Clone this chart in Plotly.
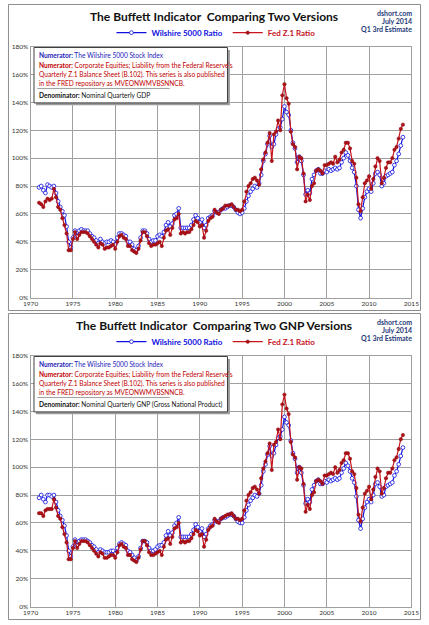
import plotly.graph_objects as go

# quarterly ratios, 1971 Q1 .. 2014 Q1, in percent of GDP / GNP
wilshire_gdp = [
    79, 80, 77, 75,  81, 80, 79, 80,  75, 69, 65, 62,  59, 51, 40, 36,
    43, 48, 44, 48,  49, 48, 48, 48,  46, 44, 43, 41,  39, 42, 40, 39,
    40, 40, 41, 40,  38, 43, 46, 46,  45, 44, 40, 40,  38, 35, 34, 37,
    43, 48, 48, 46,  42, 40, 41, 41,  44, 45, 44, 47,  52, 54, 51, 53,
    59, 60, 64, 50,  50, 50, 50, 50,  52, 56, 59, 57,  54, 56, 50, 52,
    57, 58, 59, 62,  61, 61, 63, 64,  64, 65, 66, 66,  65, 63, 61, 60,
    61, 64, 69, 73,  76, 78, 80, 79,  82, 88, 98, 103, 110, 116, 108, 110,
    117, 121, 122, 128, 137, 133, 131, 120, 111, 107, 97, 101, 98, 88, 74, 77,
    75, 85, 88, 91,  92, 89, 89, 91,  90, 92, 91, 92,  93, 92, 93, 97,
    100, 104, 102, 98, 93, 90, 80, 63, 57, 64, 72, 76,  78, 76, 82, 89,
    90, 88, 80, 82,  87, 88, 89, 90,  95, 98, 103, 109, 115,
]
fed_z1_gdp = [
    68, 67, 65, 69,  71, 70, 71, 78,  72, 65, 63, 57,  52, 46, 34, 34,
    42, 47, 42, 45,  47, 47, 47, 46,  44, 42, 40, 38,  36, 39, 38, 35,
    36, 36, 37, 38,  35, 40, 44, 45,  43, 42, 37, 37,  34, 33, 32, 35,
    41, 47, 47, 44,  39, 37, 38, 38,  39, 40, 37, 43,  48, 49, 45, 50,
    56, 57, 60, 46,  47, 46, 47, 47,  49, 52, 55, 54,  51, 52, 43, 48,
    55, 57, 58, 63,  61, 60, 63, 64,  66, 66, 66, 67,  65, 63, 63, 62,
    63, 69, 76, 80,  82, 85, 86, 84,  81, 92, 99, 104, 111, 118, 98, 117,
    119, 127, 120, 145, 153, 143, 139, 119, 110, 108, 92, 101, 100, 89, 69, 74,
    70, 80, 82, 91,  92, 91, 89, 95,  95, 96, 97, 96,  101, 97, 99, 104,
    106, 111, 111, 107, 98, 96, 86, 67, 62, 72, 82, 84,  87, 78, 85, 94,
    100, 98, 82, 86,  93, 97, 97, 100, 106, 108, 114, 121, 124,
]
wilshire_gnp = [
    78, 80, 77, 75,  80, 80, 79, 80,  75, 69, 65, 62,  58, 51, 40, 36,
    43, 48, 44, 47,  48, 48, 48, 47,  46, 44, 43, 41,  39, 41, 40, 39,
    39, 39, 40, 40,  38, 42, 45, 46,  45, 44, 40, 39,  37, 35, 33, 36,
    42, 47, 47, 46,  42, 40, 40, 41,  43, 44, 44, 46,  51, 54, 51, 53,
    58, 60, 64, 50,  50, 50, 50, 50,  52, 55, 59, 57,  54, 56, 50, 52,
    56, 58, 59, 62,  61, 61, 63, 64,  64, 65, 66, 66,  65, 63, 61, 60,
    60, 64, 69, 73,  76, 78, 80, 79,  81, 87, 97, 102, 109, 115, 108, 110,
    116, 121, 122, 127, 136, 132, 130, 119, 110, 106, 96, 100, 96, 87, 74, 77,
    75, 84, 87, 90,  91, 88, 88, 90,  89, 91, 90, 91,  92, 91, 92, 96,
    99, 103, 101, 97, 92, 89, 79, 62, 56, 63, 71, 75,  77, 75, 80, 88,
    89, 86, 79, 80,  86, 87, 88, 89,  94, 97, 102, 108, 114,
]
fed_z1_gnp = [
    67, 67, 65, 69,  70, 70, 70, 77,  71, 65, 63, 57,  52, 46, 34, 34,
    42, 47, 42, 45,  47, 47, 47, 46,  44, 42, 40, 38,  36, 39, 38, 35,
    35, 36, 37, 37,  35, 39, 44, 45,  43, 42, 37, 37,  34, 33, 32, 35,
    41, 47, 47, 44,  39, 37, 37, 38,  39, 40, 37, 43,  48, 49, 45, 50,
    56, 57, 60, 46,  47, 46, 47, 47,  49, 52, 55, 54,  51, 52, 43, 48,
    55, 57, 58, 63,  61, 60, 63, 64,  65, 66, 66, 67,  65, 63, 63, 62,
    63, 69, 76, 80,  82, 85, 86, 84,  81, 92, 99, 104, 110, 117, 98, 116,
    118, 127, 120, 145, 152, 142, 138, 118, 109, 107, 91, 100, 99, 88, 68, 73,
    70, 80, 82, 90,  91, 90, 88, 94,  94, 95, 96, 95,  100, 96, 98, 103,
    105, 110, 110, 106, 97, 95, 85, 66, 61, 71, 81, 83,  86, 77, 84, 93,
    99, 97, 81, 85,  92, 96, 96, 99,  105, 107, 113, 120, 123,
]
year_ticks = [1970, 1975, 1980, 1985, 1990, 1995, 2000, 2005, 2010, 2015]
pct_ticks = [0, 20, 40, 60, 80, 100, 120, 140, 160, 180]
pct_labels = ["%d%%" % p for p in pct_ticks]
titles = ["The Buffett Indicator  Comparing Two Versions",
          "The Buffett Indicator  Comparing Two GNP Versions"]
denominators = ["Nominal Quarterly GDP",
                "Nominal Quarterly GNP (Gross National Product)"]
source_lines = ["dshort.com", "July 2014", "Q1 3rd Estimate"]

quarters = [1971 + i / 4 for i in range(len(wilshire_gdp))]

W, H = 429, 625
FONT = "Lato"
BLUE = "#1010e0"
RED = "#c8141c"
NAVY = "#1f3a78"


def fy(px):
    return 1 - px / H


def fx(px):
    return px / W


fig = go.Figure()
shapes, annotations = [], []

panels = [
    (0, "", "legend", wilshire_gdp, fed_z1_gdp),
    (312.5, "2", "legend2", wilshire_gnp, fed_z1_gnp),
]

for i, (off, n, leg, wil, fed) in enumerate(panels):
    xa, ya = "x" + n, "y" + n

    fig.add_trace(go.Scatter(
        x=quarters, y=wil, xaxis=xa, yaxis=ya, legend=leg,
        mode="lines+markers", name="<span style='color:%s'><b>Wilshire 5000 Ratio</b></span>" % BLUE,
        line=dict(color=BLUE, width=1.2),
        marker=dict(symbol="circle", size=3.8, color="white", line=dict(color=BLUE, width=0.8)),
    ))
    fig.add_trace(go.Scatter(
        x=quarters, y=fed, xaxis=xa, yaxis=ya, legend=leg,
        mode="lines+markers", name="<span style='color:%s'><b>Fed Z.1 Ratio</b></span>" % RED,
        line=dict(color=RED, width=1.2),
        marker=dict(symbol="circle", size=3.4, color="#b01018", line=dict(color="#8a0a10", width=0.5)),
    ))

    axis_style = dict(showgrid=True, gridcolor="#a0a0a0", gridwidth=1, zeroline=False,
                      showline=True, linecolor="#a0a0a0", mirror=True, ticks="",
                      tickfont=dict(family=FONT, size=6.5, color="#333333"))
    fig.update_layout(**{
        "xaxis" + n: dict(axis_style, domain=[fx(23.5), fx(419)], range=[1970, 2015],
                          tickvals=year_ticks, anchor=ya),
        "yaxis" + n: dict(axis_style, domain=[fy(off + 297), fy(off + 43)], range=[0, 180],
                          tickvals=pct_ticks, ticktext=pct_labels, anchor=xa),
        leg: dict(orientation="h", x=fx(216), xanchor="center", y=fy(off + 29), yanchor="middle",
                  font=dict(family=FONT, size=8), bgcolor="rgba(0,0,0,0)",
                  itemwidth=30, tracegroupgap=0),
    })

    # panel frame
    shapes.append(dict(type="rect", xref="paper", yref="paper",
                       x0=fx(0.5), x1=fx(428.5), y0=fy(off + 310), y1=fy(off + 0.5),
                       line=dict(color="#8c8c8c", width=1)))

    annotations.append(dict(text="<b>%s</b>" % titles[i], x=fx(214), y=fy(off + 13),
                            xref="paper", yref="paper", yanchor="middle", showarrow=False,
                            font=dict(family=FONT, size=12, color="#111111")))
    for j, line in enumerate(source_lines):
        annotations.append(dict(text="<b>%s</b>" % line, x=fx(422), y=fy(off + 9.3 + 8 * j),
                                xref="paper", yref="paper", xanchor="right", yanchor="middle",
                                showarrow=False, font=dict(family=FONT, size=7, color=NAVY)))

    # notes box with shadow
    shapes.append(dict(type="rect", xref="paper", yref="paper",
                       x0=fx(29), x1=fx(230.5), y0=fy(off + 102.5), y1=fy(off + 46.5),
                       fillcolor="#9a9a9a", line=dict(width=0), layer="above"))
    shapes.append(dict(type="rect", xref="paper", yref="paper",
                       x0=fx(27), x1=fx(228), y0=fy(off + 100), y1=fy(off + 44),
                       fillcolor="white", line=dict(color="#404040", width=1), layer="above"))
    shapes.append(dict(type="line", xref="paper", yref="paper",
                       x0=fx(30.5), x1=fx(168), y0=fy(off + 85.5), y1=fy(off + 85.5),
                       line=dict(color="#a0a0a0", width=1), layer="above"))

    notes = [
        ("<b>Numerator:</b> The Wilshire 5000 Stock Index", "#2323b8", 52),
        ("<b>Numerator:</b> Corporate Equities; Liability from the Federal Reserve's", "#c00000", 62),
        ("Quarterly Z.1 Balance Sheet (B.102). This series is also published", "#c00000", 71),
        ("in the FRED repository as MVEONWMVBSNNCB.", "#c00000", 80),
        ("<b>Denominator:</b> " + denominators[i], "#111111", 92.5),
    ]
    for text, color, ypx in notes:
        annotations.append(dict(text=text, x=fx(30.5), y=fy(off + ypx), xref="paper", yref="paper",
                                xanchor="left", yanchor="middle", showarrow=False,
                                font=dict(family=FONT, size=6.6, color=color)))

fig.update_layout(
    width=W, height=H,
    margin=dict(l=0, r=0, t=0, b=0),
    paper_bgcolor="white", plot_bgcolor="white",
    shapes=shapes, annotations=annotations,
    showlegend=True,
)

fig.write_html("out.html", config={"displayModeBar": False},
               post_script="document.body.style.margin='0';")
